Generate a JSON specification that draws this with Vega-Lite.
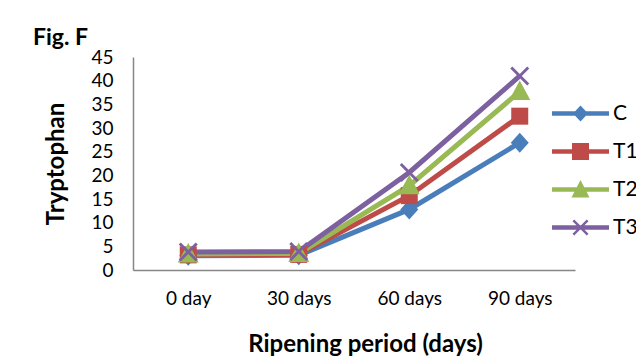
{
  "$schema": "https://vega.github.io/schema/vega-lite/v6.json",
  "autosize": "none",
  "width": 442,
  "height": 213,
  "padding": {"left": 133, "top": 57, "right": 61, "bottom": 92},
  "background": "white",
  "config": {
    "font": "Lato",
    "view": {"stroke": null},
    "axis": {"grid": false, "ticks": false, "domainColor": "#868686", "domainWidth": 1.5, "labelColor": "#000", "titleColor": "#000", "labelFont": "Lato", "titleFont": "Lato"}
  },
  "title": {"text": "Fig. F", "anchor": "start", "frame": "group", "dx": -100, "offset": -2, "fontSize": 23, "fontWeight": "bold", "color": "#000", "font": "Lato"},
  "data": {
    "values": [
      {"period": "0 day", "series": "C", "value": 3.0},
      {"period": "30 days", "series": "C", "value": 3.1},
      {"period": "60 days", "series": "C", "value": 12.8},
      {"period": "90 days", "series": "C", "value": 26.9},
      {"period": "0 day", "series": "T1", "value": 3.2},
      {"period": "30 days", "series": "T1", "value": 3.3},
      {"period": "60 days", "series": "T1", "value": 15.7},
      {"period": "90 days", "series": "T1", "value": 32.5},
      {"period": "0 day", "series": "T2", "value": 3.4},
      {"period": "30 days", "series": "T2", "value": 3.5},
      {"period": "60 days", "series": "T2", "value": 17.8},
      {"period": "90 days", "series": "T2", "value": 37.7},
      {"period": "0 day", "series": "T3", "value": 3.8},
      {"period": "30 days", "series": "T3", "value": 3.9},
      {"period": "60 days", "series": "T3", "value": 20.6},
      {"period": "90 days", "series": "T3", "value": 41.0}
    ]
  },
  "encoding": {
    "x": {
      "field": "period", "type": "ordinal", "sort": ["0 day", "30 days", "60 days", "90 days"],
      "scale": {"type": "point", "padding": 0.5},
      "axis": {"title": "Ripening period (days)", "labelAngle": 0, "labelFontSize": 19, "labelPadding": 19, "titleFontSize": 24, "titleFontWeight": "bold", "titlePadding": 24, "titleX": 232}
    },
    "y": {
      "field": "value", "type": "quantitative",
      "scale": {"domain": [0, 45], "nice": false},
      "axis": {"title": "Tryptophan", "values": [0, 5, 10, 15, 20, 25, 30, 35, 40, 45], "labelFontSize": 19, "labelPadding": 20, "titleFontSize": 24, "titleFontWeight": "bold", "titlePadding": 22}
    }
  },
  "resolve": {"scale": {"shape": "independent"}, "legend": {"color": "independent", "shape": "independent"}},
  "layer": [
    {
      "mark": {"type": "line", "strokeWidth": 5},
      "encoding": {"color": {"field": "series", "type": "nominal", "legend": null,
        "scale": {"domain": ["C", "T1", "T2", "T3"], "range": ["#4A7EBB", "#BE4B48", "#98B954", "#7D60A0"]}}}
    },
    {
      "mark": {"type": "point", "filled": true, "size": 400, "opacity": 1, "strokeWidth": 0},
      "encoding": {
        "shape": {
          "field": "series", "type": "nominal",
          "scale": {"domain": ["C", "T1", "T2", "T3"], "range": [
            "M0,-1L0.9,0L0,1L-0.9,0Z",
            "M-0.85,-0.85H0.85V0.85H-0.85Z",
            "M0,-1.1L1.05,0.85L-1.05,0.85Z",
            "M0.95,-0.746L0.204,0L0.95,0.746L0.746,0.95L0,0.204L-0.746,0.95L-0.95,0.746L-0.204,0L-0.95,-0.746L-0.746,-0.95L0,-0.204L0.746,-0.95Z"
          ]},
          "legend": null
        },
        "color": {"field": "series", "type": "nominal", "legend": null,
          "scale": {"domain": ["C", "T1", "T2", "T3"], "range": ["#4A7EBB", "#BE4B48", "#98B954", "#7D60A0"]}}
      }
    },
    {
      "transform": [{"filter": "false"}],
      "mark": {"type": "point", "filled": true, "size": 400, "opacity": 1, "strokeWidth": 0},
      "encoding": {
        "shape": {
          "field": "series", "type": "nominal",
          "scale": {"domain": ["C", "T1", "T2", "T3"], "range": [
            "M-2.85,-0.22H2.85V0.22H-2.85Z M0,-0.8L0.75,0L0,0.8L-0.75,0Z",
            "M-2.85,-0.22H2.85V0.22H-2.85Z M-0.85,-0.85H0.85V0.85H-0.85Z",
            "M-2.85,-0.22H2.85V0.22H-2.85Z M0,-0.95L0.9,0.8L-0.9,0.8Z",
            "M-2.85,-0.22H2.85V0.22H-2.85Z M0.8,-0.628L0.172,0L0.8,0.628L0.628,0.8L0,0.172L-0.628,0.8L-0.8,0.628L-0.172,0L-0.8,-0.628L-0.628,-0.8L0,-0.172L0.628,-0.8Z"
          ]},
          "legend": {
            "title": null, "orient": "none", "legendX": 437, "legendY": 46, "padding": 0,
            "labelFontSize": 21, "labelColor": "#000", "labelOffset": 22, "rowPadding": 16, "symbolSize": 400, "symbolStrokeWidth": 0
          }
        },
        "color": {"field": "series", "type": "nominal",
          "scale": {"domain": ["C", "T1", "T2", "T3"], "range": ["#4A7EBB", "#BE4B48", "#98B954", "#7D60A0"]},
          "legend": {
            "title": null, "orient": "none", "legendX": 437, "legendY": 46, "padding": 0,
            "labelFontSize": 21, "labelColor": "#000", "labelOffset": 22, "rowPadding": 16, "symbolSize": 400, "symbolStrokeWidth": 0
          }}
      }
    }
  ]
}
